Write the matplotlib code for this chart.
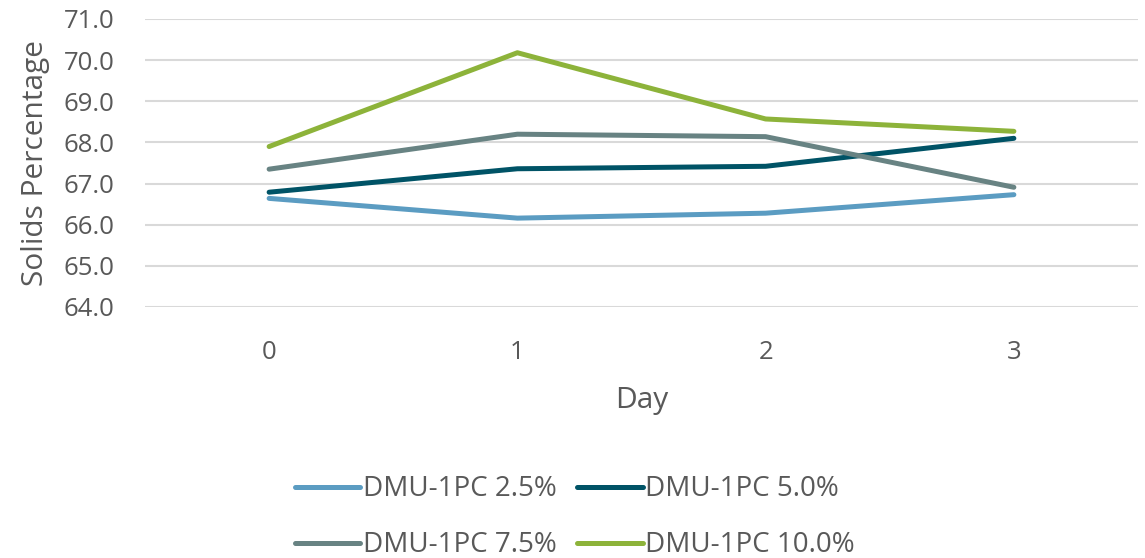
import matplotlib
matplotlib.use('Agg')
import matplotlib.pyplot as plt

plt.rcParams['font.family'] = ['Open Sans', 'DejaVu Sans']

# ------------------ Data --------------------

days = [0, 1, 2, 3]

solids_2_5  = [66.64, 66.16, 66.28, 66.73]
solids_5_0  = [66.79, 67.36, 67.42, 68.10]
solids_7_5  = [67.35, 68.20, 68.14, 66.91]
solids_10_0 = [67.90, 70.18, 68.57, 68.27]

labels = ['DMU-1PC 2.5%', 'DMU-1PC 5.0%', 'DMU-1PC 7.5%', 'DMU-1PC 10.0%']
colors = ['#5B9CC2', '#005366', '#688383', '#8DB33A']

yticks = [64, 65, 66, 67, 68, 69, 70, 71]

textColor = '#595959'

# ------------------ Plot --------------------

fig = plt.figure(figsize=(11.45, 5.58), dpi=100)
ax = fig.add_axes([145 / 1145, 1 - 307 / 558, (1138 - 145) / 1145, (307 - 19) / 558])

lines = []
for series, label, color in zip([solids_2_5, solids_5_0, solids_7_5, solids_10_0], labels, colors):
    line, = ax.plot(days, series, color=color, linewidth=3.6, label=label, solid_capstyle='round')
    lines.append(line)

ax.set_xlim(-0.5, 3.5)
ax.set_ylim(64, 71)
ax.set_xticks(days)
ax.set_yticks(yticks)
ax.set_yticklabels(['%.1f' % v for v in yticks])

ax.grid(axis='y', color='#D9D9D9', linewidth=1.5)
ax.set_axisbelow(True)
for side in ['top', 'right', 'left', 'bottom']:
    ax.spines[side].set_visible(False)

ax.tick_params(axis='both', length=0, labelsize=18.5, colors=textColor)
ax.tick_params(axis='x', pad=24)
ax.tick_params(axis='y', pad=22)

ax.set_xlabel('Day', fontsize=21.5, color=textColor, labelpad=15)
ax.set_ylabel('Solids Percentage', fontsize=21.5, color=textColor, labelpad=10)

# row-major legend order: 2.5 | 5.0 on top, 7.5 | 10.0 below
order = [0, 2, 1, 3]
leg = fig.legend([lines[i] for i in order], [labels[i] for i in order],
                 loc='upper center', bbox_to_anchor=(0.502, 1 - 456 / 558), ncol=2,
                 frameon=False, fontsize=20, handlelength=2.35, handletextpad=0.1,
                 columnspacing=0.75, labelspacing=1.0, borderpad=0.2)
for text in leg.get_texts():
    text.set_color(textColor)

fig.savefig('out.png', dpi=100)
